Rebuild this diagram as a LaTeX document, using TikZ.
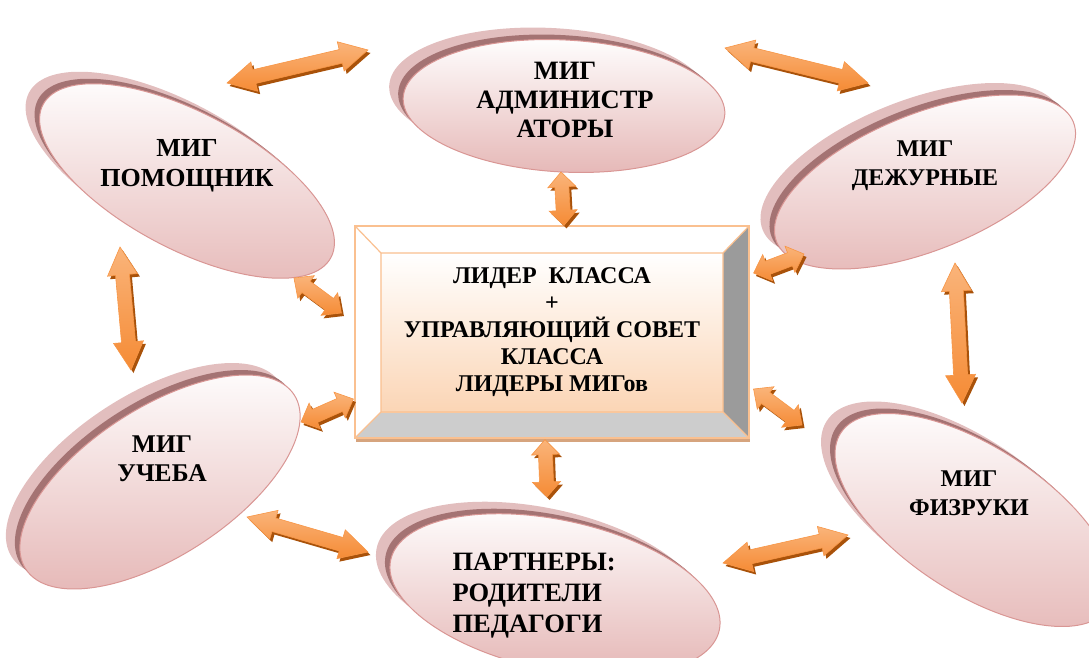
\documentclass[tikz,border=0pt]{standalone}
\usepackage{fontspec}
\setmainfont{Liberation Serif}
\usepackage{tikz}
\usetikzlibrary{shapes.geometric,shadows,calc}

\definecolor{migline}{HTML}{D99694}
\definecolor{migbot}{HTML}{E6B9B8}
\definecolor{migdark}{HTML}{A47373}
\definecolor{migshade}{HTML}{E2BEBE}
\definecolor{arrfill}{HTML}{F58B35}
\definecolor{arrlight}{HTML}{FAB47A}
\definecolor{arrline}{HTML}{F79646}
\definecolor{arrshade}{HTML}{A9520A}
\definecolor{boxline}{HTML}{FAC090}
\definecolor{facebot}{HTML}{FBD5B5}
\definecolor{bevelgrey}{HTML}{9B9B9B}
\definecolor{bevellight}{HTML}{CDCDCD}
\definecolor{boxshadow}{HTML}{D6A47E}

\newcommand\arrhl{28pt}
\newcommand\arrhw{15pt}
\newcommand\arrsw{7pt}

\tikzset{
  mig/.style={ellipse, draw=migline, line width=1pt, top color=white, bottom color=migbot, inner sep=0pt,
    general shadow={fill=migshade, shadow xshift=-14pt, shadow yshift=12pt},
    general shadow={fill=migdark, shadow xshift=-5pt, shadow yshift=5pt}},
  migtext/.style={font=\bfseries\fontsize{#1}{29}\selectfont, align=center},
  migtext/.default=24,
  short/.code={\renewcommand\arrhl{15pt}\renewcommand\arrhw{14pt}\renewcommand\arrsw{7pt}},
  dblarrow/.style={draw=arrline, line width=.6pt, top color=arrlight, bottom color=arrfill,
    general shadow={fill=arrshade, shadow xshift=2.5pt, shadow yshift=-3pt},
    to path={let \p1=(\tikztostart), \p2=(\tikztotarget) in
      (\p1)
      -- ($($(\p1)!\arrhl!(\p2)$)!\arrhw!90:(\p2)$)
      -- ($($(\p1)!\arrhl!(\p2)$)!\arrsw!90:(\p2)$)
      -- ($($(\p2)!\arrhl!(\p1)$)!\arrsw!-90:(\p1)$)
      -- ($($(\p2)!\arrhl!(\p1)$)!\arrhw!-90:(\p1)$)
      -- (\p2)
      -- ($($(\p2)!\arrhl!(\p1)$)!\arrhw!90:(\p1)$)
      -- ($($(\p2)!\arrhl!(\p1)$)!\arrsw!90:(\p1)$)
      -- ($($(\p1)!\arrhl!(\p2)$)!\arrsw!-90:(\p2)$)
      -- ($($(\p1)!\arrhl!(\p2)$)!\arrhw!-90:(\p2)$)
      -- cycle}},
  ctrbox/.style={rectangle, minimum width=394pt, minimum height=212pt, inner sep=0pt,
    draw=boxline, line width=1.2pt, fill=white,
    general shadow={fill=boxshadow, shadow xshift=1pt, shadow yshift=-4pt},
    font=\bfseries\fontsize{24}{27}\selectfont, align=center,
    path picture={
      \coordinate (onw) at (path picture bounding box.north west);
      \coordinate (one) at (path picture bounding box.north east);
      \coordinate (ose) at (path picture bounding box.south east);
      \coordinate (osw) at (path picture bounding box.south west);
      \coordinate (inw) at ([shift={(26,-27)}]onw);
      \coordinate (ine) at ([shift={(-26,-27)}]one);
      \coordinate (ise) at ([shift={(-26,26)}]ose);
      \coordinate (isw) at ([shift={(26,26)}]osw);
      \fill[bevelgrey] (one) -- (ose) -- (ise) -- (ine) -- cycle;
      \fill[bevellight] (osw) -- (ose) -- (ise) -- (isw) -- cycle;
      \shade[top color=white, bottom color=facebot] (inw) rectangle (ise);
      \draw[boxline, line width=1.2pt] (inw) rectangle (ise)
        (onw) -- (inw) (one) -- (ine) (osw) -- (isw) (ose) -- (ise);
    }}
}

\begin{document}
\begin{tikzpicture}[x=1pt, y=1pt]
  \useasboundingbox (0,0) rectangle (1089,-658);

  % groups
  \node[mig, minimum width=322pt, minimum height=132pt, rotate=-3] (adm) at (564,-106) {};
  \node[mig, minimum width=326pt, minimum height=136pt, rotate=-28] (pom) at (187,-181) {};
  \node[mig, minimum width=320pt, minimum height=136pt, rotate=22] (dez) at (925,-182) {};
  \node[mig, minimum width=320pt, minimum height=148pt, rotate=33] (uch) at (160,-482) {};
  \node[mig, minimum width=320pt, minimum height=146pt, rotate=-33] (fiz) at (975,-520) {};
  \node[mig, minimum width=336pt, minimum height=150pt, rotate=-12] (par) at (555,-595) {};

  % class council
  \node[ctrbox] (ctr) at (552,-332) {ЛИДЕР\ \ КЛАССА\\+\\УПРАВЛЯЮЩИЙ СОВЕТ\\КЛАССА\\ЛИДЕРЫ МИГов};

  % links
  \draw[dblarrow] ([shift={(40,98)}]pom.center) to ([shift={(-196,56)}]adm.center);
  \draw[dblarrow] ([shift={(161,58)}]adm.center) to ([shift={(-57,99)}]dez.center);
  \draw[dblarrow] ([shift={(-67,-66)}]pom.center) to ([shift={(-29,112)}]uch.center);
  \draw[dblarrow] ([shift={(30,-81)}]dez.center) to ([shift={(-13,117)}]fiz.center);
  \draw[dblarrow] ([shift={(87,-35)}]uch.center) to ([shift={(-187,43)}]par.center);
  \draw[dblarrow] ([shift={(168,32)}]par.center) to ([shift={(-127,-15)}]fiz.center);
  \draw[dblarrow, short] ([shift={(-3,-66)}]adm.center) to ([shift={(12,0)}]ctr.north);
  \draw[dblarrow, short] ([shift={(-7,-1)}]ctr.south) to ([shift={(-8,98)}]par.center);
  \draw[dblarrow, short] ([shift={(107,-97)}]pom.center) to ([shift={(-13,19)}]ctr.west);
  \draw[dblarrow, short] ([shift={(4,59)}]ctr.east) to ([shift={(-121,-72)}]dez.center);
  \draw[dblarrow, short] ([shift={(141,60)}]uch.center) to ([shift={(-1,-67)}]ctr.west);
  \draw[dblarrow, short] ([shift={(4,-57)}]ctr.east) to ([shift={(-173,95)}]fiz.center);

  % labels
  \node[migtext=26.5] (admT) at (565,-100) {МИГ\\АДМИНИСТР\\АТОРЫ};
  \node[migtext=26, font=\bfseries\fontsize{26}{30}\selectfont] (pomT) at (187,-166) {МИГ\\ПОМОЩНИК};
  \node[migtext] (dezT) at (925,-166) {МИГ\\ДЕЖУРНЫЕ};
  \node[migtext=25.5] (uchT) at (162,-459) {МИГ\\УЧЕБА};
  \node[migtext] (fizT) at (969,-493) {МИГ\\ФИЗРУКИ};
  \node[migtext, font=\bfseries\fontsize{26.5}{31}\selectfont, align=left, anchor=west] (parT) at (449,-596) {ПАРТНЕРЫ:\\РОДИТЕЛИ\\ПЕДАГОГИ};
\end{tikzpicture}
\end{document}
